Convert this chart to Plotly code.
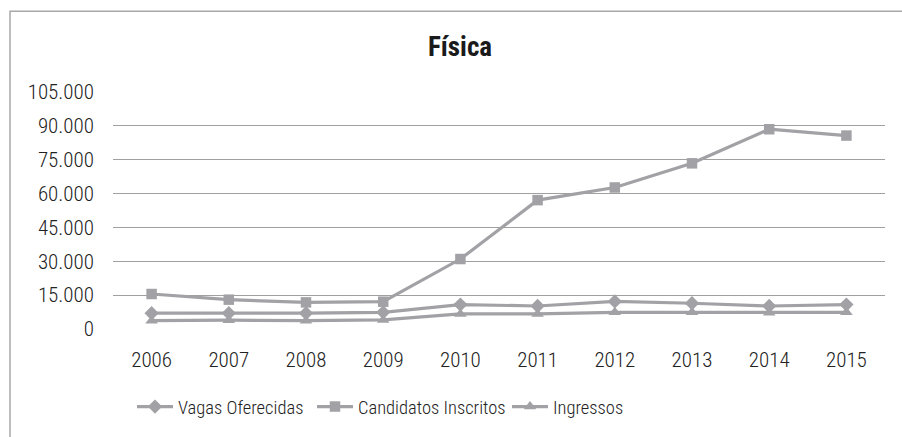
import plotly.graph_objects as go

anos = ["2006", "2007", "2008", "2009", "2010", "2011", "2012", "2013", "2014", "2015"]
vagas = [7000, 7000, 7000, 7400, 10800, 10200, 12200, 11400, 10200, 10800]
candidatos = [15500, 13000, 11800, 12100, 31000, 57100, 62700, 73400, 88500, 85700]
ingressos = [3700, 3900, 3700, 4000, 6700, 6700, 7400, 7400, 7200, 7400]

y_ticks = [0, 15000, 30000, 45000, 60000, 75000, 90000, 105000]
y_labels = ["0", "15.000", "30.000", "45.000", "60.000", "75.000", "90.000", "105.000"]

FONT = "Roboto Condensed"
GRAY = "#a2a2a6"
TXT = "#222222"
L, T, W, H = 113, 92, 772, 238

fig = go.Figure()
fig.add_trace(go.Scatter(x=anos, y=vagas, name="Vagas Oferecidas", mode="lines+markers",
                         line=dict(color=GRAY, width=3.2), legend="legend",
                         marker=dict(symbol="diamond", size=11, color=GRAY)))
fig.add_trace(go.Scatter(x=anos, y=candidatos, name="Candidatos Inscritos", mode="lines+markers",
                         line=dict(color=GRAY, width=3.2), legend="legend2",
                         marker=dict(symbol="square", size=10.5, color=GRAY)))
fig.add_trace(go.Scatter(x=anos, y=ingressos, name="Ingressos", mode="lines+markers",
                         line=dict(color=GRAY, width=3.2), legend="legend3",
                         marker=dict(symbol="triangle-up", size=11, color=GRAY)))
for tr in fig.data:
    tr.cliponaxis = False

def leg(px):
    return dict(orientation="h", x=(px - L) / W, xanchor="left",
                y=-(407 - (T + H)) / H, yanchor="middle", itemwidth=36,
                font=dict(family=FONT, size=18.5, color=TXT, weight=300),
                bgcolor="rgba(0,0,0,0)")

fig.update_layout(
    width=902, height=437,
    margin=dict(l=L, r=902 - L - W, t=T, b=437 - T - H),
    paper_bgcolor="white", plot_bgcolor="white",
    font=dict(family=FONT, size=21, color=TXT, weight=300),
    title=dict(text="<b>Física</b>", x=(460 - L) / W, xref="paper", xanchor="center",
               y=1.0 - 47 / 437, yanchor="middle",
               font=dict(family=FONT, size=27, color="#1a1a1a")),
    xaxis=dict(type="category", range=[-0.5, 9.5], showgrid=False, showline=False,
               ticks="", ticklabelstandoff=16,
               tickfont=dict(family=FONT, size=21, color=TXT, weight=300)),
    yaxis=dict(range=[0, 105000], tickvals=y_ticks, ticktext=y_labels,
               showgrid=True, gridcolor="#a0a0a0", gridwidth=1, zeroline=False,
               showline=False, ticks="", ticklabelstandoff=18,
               tickfont=dict(family=FONT, size=21, color=TXT, weight=300)),
    showlegend=True,
    legend=leg(132), legend2=leg(312), legend3=leg(507),
    shapes=[dict(type="rect", xref="paper", yref="paper",
                 x0=(10 - L) / W, x1=1.05, y0=-0.6, y1=1 + (T - 11) / H,
                 line=dict(color="#a8a8a8", width=1.5), fillcolor="rgba(0,0,0,0)", layer="below")],
)

fig.write_html("out.html", config={"displayModeBar": False},
               post_script="document.body.style.margin='0px';")
